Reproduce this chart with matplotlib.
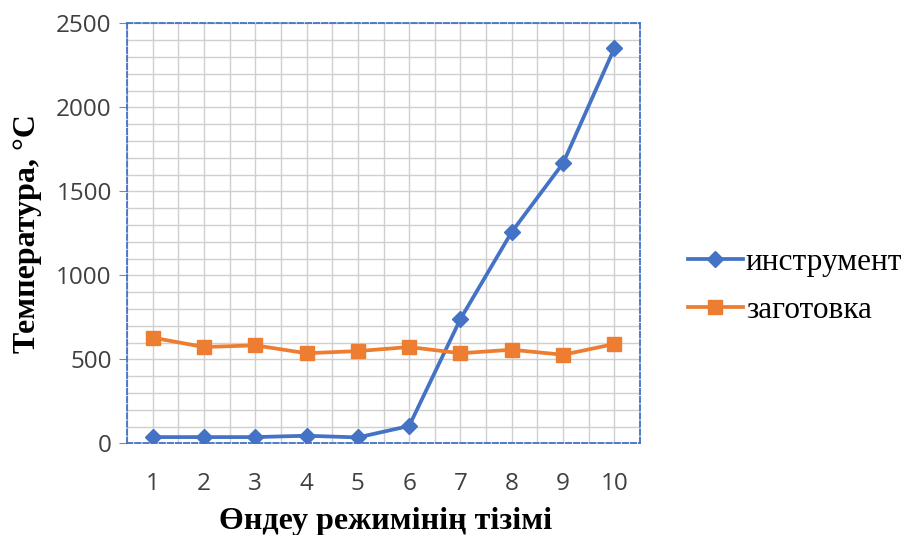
import numpy as np
import matplotlib
matplotlib.use('Agg')
import matplotlib.pyplot as plt
from matplotlib.ticker import MultipleLocator

# data
modes = [1, 2, 3, 4, 5, 6, 7, 8, 9, 10]
tool_temp = [37, 37, 37, 45, 35, 103, 740, 1258, 1667, 2351]
blank_temp = [629, 573, 583, 536, 549, 573, 536, 557, 527, 591]
series_names = ['инструмент', 'заготовка']

blue = '#4472C4'
orange = '#ED7D31'

fig = plt.figure(figsize=(9.08, 5.35), dpi=100)
ax = fig.add_axes([127/908, (535-443.3)/535, (640-127)/908, 420/535])

ax.plot(modes, tool_temp, color=blue, lw=2.7, marker='D', ms=8.5, label=series_names[0], zorder=3)
ax.plot(modes, blank_temp, color=orange, lw=2.7, marker='s', ms=9.5, label=series_names[1], zorder=3)

ax.set_xlim(0.5, 10.5)
ax.set_ylim(0, 2500)
ax.set_xticks(modes)
ax.xaxis.set_minor_locator(MultipleLocator(0.5))
ax.yaxis.set_major_locator(MultipleLocator(500))
ax.yaxis.set_minor_locator(MultipleLocator(100))
ax.grid(True, which='both', color='#CFCFCF', lw=1.0)
ax.set_axisbelow(True)

for s in ax.spines.values():
    s.set_color(blue)
    s.set_linestyle((0, (3, 1.5)))
    s.set_linewidth(1.3)

ax.tick_params(axis='y', which='major', length=6, color='#888888', labelsize=17.5, labelcolor='#404040', pad=5)
ax.tick_params(axis='y', which='minor', length=0)
ax.tick_params(axis='x', which='both', length=0, labelsize=17.5, labelcolor='#404040', pad=21)
for lab in ax.get_xticklabels() + ax.get_yticklabels():
    lab.set_family('Open Sans')

ax.set_xlabel('Өндеу режимінің тізімі', family='Liberation Serif', fontweight='bold', fontsize=23)
ax.set_ylabel('Температура, °C', family='Liberation Serif', fontweight='bold', fontsize=23)
ax.xaxis.set_label_coords(0.504, -0.187)
ax.xaxis.label.set_va('center')
ax.yaxis.set_label_coords(-0.193, 0.5)
ax.yaxis.label.set_va('center')

leg = ax.legend(loc='upper left', bbox_to_anchor=(688/908, 1 - 248/535), bbox_transform=fig.transFigure,
                frameon=False, borderpad=0, borderaxespad=0,
                prop={'family': 'Liberation Serif', 'size': 22.5},
                handlelength=1.75, handletextpad=0.1, labelspacing=0.62)

fig.savefig('out.png', dpi=100)
